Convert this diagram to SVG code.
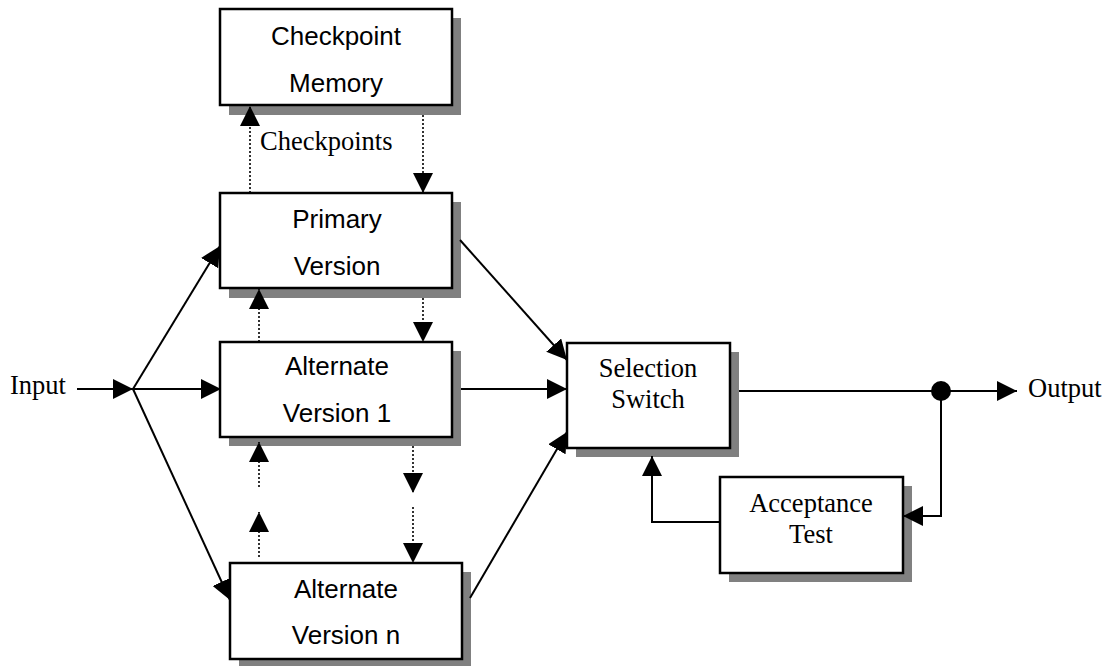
<svg xmlns="http://www.w3.org/2000/svg" width="1110" height="666" viewBox="0 0 1110 666">
<style>
.box{fill:#fff;stroke:#000;stroke-width:2.5}
.sh{fill:#808080}
.sans{font-family:"Liberation Sans",Arial,sans-serif;font-size:26px;fill:#000;text-anchor:middle}
.serif{font-family:"Liberation Serif","Times New Roman",serif;font-size:26.5px;fill:#000}
.ser-m{text-anchor:middle}
.ln{fill:none;stroke:#000;stroke-width:2}
.dot{fill:none;stroke:#000;stroke-width:1.6;stroke-dasharray:2 2}
</style>
<defs>
<marker id="ah" markerUnits="userSpaceOnUse" markerWidth="20" markerHeight="20" refX="20" refY="10" orient="auto">
<path d="M0,0 L20,10 L0,20 z" fill="#000"/>
</marker>
</defs>
<rect width="1110" height="666" fill="#fff"/>
<g id="checkpoint-memory">
<rect class="sh" x="229" y="18" width="232" height="97"/>
<rect class="box" x="220" y="9" width="232" height="96"/>
<text class="sans" x="336" y="45">Checkpoint</text>
<text class="sans" x="336" y="92">Memory</text>
</g>
<g id="primary">
<rect class="sh" x="229" y="202" width="232" height="96"/>
<rect class="box" x="220" y="193" width="232" height="95"/>
<text class="sans" x="337" y="228">Primary</text>
<text class="sans" x="337" y="275">Version</text>
</g>
<g id="alt1">
<rect class="sh" x="229" y="351" width="232" height="95"/>
<rect class="box" x="220" y="342" width="232" height="95"/>
<text class="sans" x="337" y="375">Alternate</text>
<text class="sans" x="337" y="422">Version 1</text>
</g>
<g id="altn">
<rect class="sh" x="239" y="572" width="232" height="94"/>
<rect class="box" x="230" y="563" width="232" height="96"/>
<text class="sans" x="346" y="598">Alternate</text>
<text class="sans" x="346" y="644">Version n</text>
</g>
<g id="switch">
<rect class="sh" x="576" y="352" width="163" height="105"/>
<rect class="box" x="567" y="343" width="163" height="105"/>
<text class="serif ser-m" x="648" y="377">Selection</text>
<text class="serif ser-m" x="648" y="408">Switch</text>
</g>
<g id="acceptance">
<rect class="sh" x="729" y="486" width="183" height="96"/>
<rect class="box" x="720" y="477" width="183" height="96"/>
<text class="serif ser-m" x="811" y="512">Acceptance</text>
<text class="serif ser-m" x="811" y="543">Test</text>
</g>
<g id="labels">
<text class="serif" x="10" y="394">Input</text>
<text class="serif" x="1028" y="397">Output</text>
<text class="serif" x="260" y="150">Checkpoints</text>
</g>
<g id="connectors">
<line class="ln" x1="77" y1="389" x2="133" y2="389" marker-end="url(#ah)"/>
<line class="ln" x1="133" y1="389" x2="221" y2="389" marker-end="url(#ah)"/>
<line class="ln" x1="133" y1="389" x2="220" y2="246" marker-end="url(#ah)"/>
<line class="ln" x1="133" y1="389" x2="230" y2="600" marker-end="url(#ah)"/>
<line class="ln" x1="460" y1="240" x2="567" y2="360" marker-end="url(#ah)"/>
<line class="ln" x1="461" y1="389" x2="567" y2="389" marker-end="url(#ah)"/>
<line class="ln" x1="470" y1="598" x2="567" y2="432" marker-end="url(#ah)"/>
<line class="ln" x1="739" y1="391" x2="1017" y2="391" marker-end="url(#ah)"/>
<circle cx="941" cy="391" r="10" fill="#000"/>
<path class="ln" d="M941,391 V516 H903" marker-end="url(#ah)"/>
<path class="ln" d="M720,522 H652 V456" marker-end="url(#ah)"/>
<line class="dot" x1="250" y1="193" x2="250" y2="106" marker-end="url(#ah)"/>
<line class="dot" x1="423" y1="115" x2="423" y2="193" marker-end="url(#ah)"/>
<line class="dot" x1="423" y1="298" x2="423" y2="342" marker-end="url(#ah)"/>
<line class="dot" x1="259" y1="342" x2="259" y2="289" marker-end="url(#ah)"/>
<line class="dot" x1="413" y1="446" x2="413" y2="493" marker-end="url(#ah)"/>
<line class="dot" x1="413" y1="507" x2="413" y2="563" marker-end="url(#ah)"/>
<line class="dot" x1="259" y1="557" x2="259" y2="512" marker-end="url(#ah)"/>
<line class="dot" x1="259" y1="487" x2="259" y2="442" marker-end="url(#ah)"/>
</g>
</svg>
